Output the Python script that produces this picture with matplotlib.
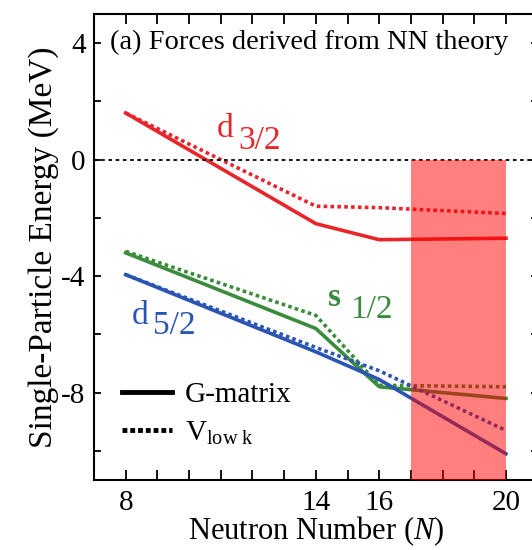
import matplotlib
matplotlib.use("Agg")
import matplotlib.pyplot as plt
from matplotlib.ticker import MultipleLocator, FixedLocator
from matplotlib.lines import Line2D

plt.rcParams.update({
    "font.family": ["Liberation Serif", "DejaVu Serif"],
    "mathtext.fontset": "custom",
    "mathtext.rm": "Liberation Serif",
    "mathtext.it": "Liberation Serif:italic",
    "axes.unicode_minus": False,
})

# data
N = [8, 14, 16, 20]
d32_g = [1.6, -2.2, -2.75, -2.7]
d32_v = [1.6, -1.6, -1.65, -1.85]
s12_g = [-3.2, -5.8, -7.8, -8.2]
s12_v = [-3.15, -5.35, -7.75, -7.8]
d52_g = [-3.95, -6.6, -7.55, -10.1]
d52_v = [-3.95, -6.45, -7.25, -9.3]
shade_N = (17, 20)
xticks = [8, 14, 16, 20]
yticks = [4, 0, -4, -8]

RED = "#e8262a"
GREEN = "#3a8c3c"
BLUE = "#2b55b5"

fig = plt.figure(figsize=(5.32, 5.50), dpi=100)
ax = fig.add_axes([0.1767, 0.1273, 0.834, 0.8473])

lw = 2.6
dot = (0, (1, 0.9))
ax.plot(N, d32_g, color=RED, lw=lw)
ax.plot(N, d32_v, color=RED, lw=lw, ls=dot)
ax.plot(N, s12_g, color=GREEN, lw=lw)
ax.plot(N, s12_v, color=GREEN, lw=lw, ls=dot)
ax.plot(N, d52_g, color=BLUE, lw=lw)
ax.plot(N, d52_v, color=BLUE, lw=lw, ls=dot)

ax.axhline(0, color="black", lw=1.3, ls=(0, (2, 2)))
ax.fill_between(shade_N, [0, 0], [-11, -11], color="red", alpha=0.5, lw=0, zorder=5)

ax.set_xlim(7, 21)
ax.set_ylim(-11, 5)

ax.xaxis.set_major_locator(FixedLocator(xticks))
ax.xaxis.set_minor_locator(MultipleLocator(1))
ax.yaxis.set_major_locator(FixedLocator(yticks))
ax.yaxis.set_minor_locator(MultipleLocator(2))
ax.tick_params(axis="x", which="both", direction="in", top=True, length=7, width=1.3,
               labelsize=21, pad=7)
ax.tick_params(axis="y", which="both", direction="in", right=True, length=5, width=1.3,
               labelsize=21, pad=6)
ax.spines["right"].set_visible(False)
for s in ["left", "bottom", "top"]:
    ax.spines[s].set_linewidth(1.5)

ax.set_xlabel(r"Neutron Number ($N$)", fontsize=22, labelpad=-1)
ax.set_ylabel("Single-Particle Energy (MeV)", fontsize=24, labelpad=2)

ax.text(0.035, 0.965, "(a) Forces derived from NN theory", transform=ax.transAxes,
        fontsize=20.5, ha="left", va="top")

# orbital labels
ax.text(10.87, 0.79, "d", color=RED, fontsize=24, ha="left", va="baseline")
ax.text(11.54, 0.38, "3/2", color=RED, fontsize=24, ha="left", va="baseline")
ax.text(14.38, -5.04, "s", color=GREEN, fontsize=24, ha="left", va="baseline", fontweight="bold")
ax.text(15.07, -5.45, "1/2", color=GREEN, fontsize=24, ha="left", va="baseline")
ax.text(8.19, -5.66, "d", color=BLUE, fontsize=24, ha="left", va="baseline")
ax.text(8.85, -6.0, "5/2", color=BLUE, fontsize=24, ha="left", va="baseline")

handles = [Line2D([], [], color="black", lw=3.5),
           Line2D([], [], color="black", lw=3.5, ls=(0, (1, 0.6)))]
ax.legend(handles, ["G-matrix", r"V$_{\mathrm{low\ k}}$"], loc="lower left",
          bbox_to_anchor=(0.005, 0.015), frameon=False, fontsize=21, handlelength=1.7,
          handletextpad=0.45, labelspacing=0.4)

fig.savefig("out.png", dpi=100)
